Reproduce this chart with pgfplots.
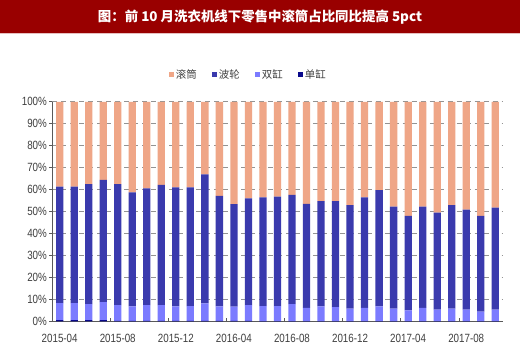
\documentclass[border=0pt]{standalone}
\usepackage{pgfplots}
\pgfplotsset{compat=1.18}
\usepackage{pgfplotstable}
\usepackage{fontspec}
\setmainfont{Liberation Sans}
\newfontfamily\cjk{Noto Sans CJK SC}
\definecolor{gt}{HTML}{EFA687}
\definecolor{bl}{HTML}{3A3AAD}
\definecolor{sg}{HTML}{7B7BFF}
\definecolor{dg}{HTML}{0A0A8C}
\definecolor{tred}{HTML}{990000}
\definecolor{lab}{HTML}{404040}
\newcommand{\nl}[1]{\scalebox{0.82}[1]{\fontsize{12}{14}\selectfont #1}}

\pgfplotstableread{
x dan shuang bolun gun
0 0.6 7.7 53.1 38.6
1 0.6 7.7 53.1 38.6
2 0.6 7.3 54.6 37.5
3 0.6 8.2 55.6 35.6
4 0.2 7.2 55.1 37.5
5 0.2 6.6 52.0 41.2
6 0.2 7.2 53.2 39.4
7 0.2 7.2 54.8 37.8
8 0.2 6.6 54.2 39.0
9 0.2 6.8 54.0 39.0
10 0.2 8.0 58.8 33.0
11 0.2 6.6 50.4 42.8
12 0.2 6.5 46.7 46.6
13 0.2 7.2 48.6 44.0
14 0.1 6.9 49.5 43.5
15 0.1 6.9 49.8 43.2
16 0.1 7.8 49.7 42.4
17 0.1 6.1 47.3 46.5
18 0.1 6.7 48.0 45.2
19 0.1 6.4 48.3 45.2
20 0.1 5.7 47.2 47.0
21 0.1 6.1 50.3 43.5
22 0.1 6.7 53.0 40.2
23 0.1 5.7 46.5 47.7
24 0.1 4.9 43.0 52.0
25 0.1 6.1 46.1 47.7
26 0.1 5.2 44.2 50.5
27 0.1 5.7 47.2 47.0
28 0.1 5.2 45.6 49.1
29 0.1 4.3 43.6 52.0
30 0.1 5.2 46.5 48.2
}\data

\begin{document}
\begin{tikzpicture}
\fill[white] (0bp,0bp) rectangle (520bp,364bp);
\fill[tred] (0bp,331bp) rectangle (520bp,364bp);
\draw[color=tred!25, line width=1bp] (0bp,330bp) -- (520bp,330bp);
\node[text=white, font=\cjk\bfseries\fontsize{13.5}{15}\selectfont] at (260bp,347bp) {图：前 10 月洗衣机线下零售中滚筒占比同比提高 5pct};
\begin{axis}[
  at={(52bp,42bp)}, anchor=south west,
  scale only axis, width=451bp, height=220bp,
  ybar stacked, bar width=7.3bp,
  xmin=-0.5, xmax=30.5, ymin=0, ymax=100,
  axis x line*=bottom, axis y line*=left,
  axis line style={-, draw=gray!70!black, line width=0.8bp},
  ytick={0,10,...,100},
  yticklabel={\nl{\pgfmathprintnumber{\tick}\%}},
  /pgf/number format/assume math mode=true,
  tick label style={text=lab},
  yticklabel style={xshift=1bp},
  tick align=outside, major tick length=3bp,
  ytick style={draw=gray!70!black, line width=0.8bp},
  xtick={0,4,...,28},
  xticklabels={\nl{2015-04},\nl{2015-08},\nl{2015-12},\nl{2016-04},\nl{2016-08},\nl{2016-12},\nl{2017-04},\nl{2017-08}},
  xtick style={draw=none},
  xticklabel style={yshift=-6bp},
  extra x ticks={3.5,7.5,...,27.5},
  extra x tick labels={},
  extra x tick style={xtick style={draw=gray!70!black, line width=0.8bp}, tick align=inside},
  ymajorgrids,
  grid style={draw=gray!85, line width=1bp, dash pattern=on 5bp off 4bp},
  legend style={at={(0.435,1.123)}, anchor=center, draw=none, fill=none,
    legend columns=4, font=\cjk\fontsize{10.5}{12}\selectfont, text=lab,
    /tikz/every even column/.append style={column sep=13bp}},
  legend image code/.code={\fill[#1] (0bp,-2.6bp) rectangle (5.2bp,2.6bp);},
  reverse legend,
]
\addplot[fill=dg, draw=none] table[x=x, y=dan] {\data};
\addplot[fill=sg, draw=none] table[x=x, y=shuang] {\data};
\addplot[fill=bl, draw=none] table[x=x, y=bolun] {\data};
\addplot[fill=gt, draw=none] table[x=x, y=gun] {\data};
\legend{单缸,双缸,波轮,滚筒}
\end{axis}
\end{tikzpicture}
\end{document}
